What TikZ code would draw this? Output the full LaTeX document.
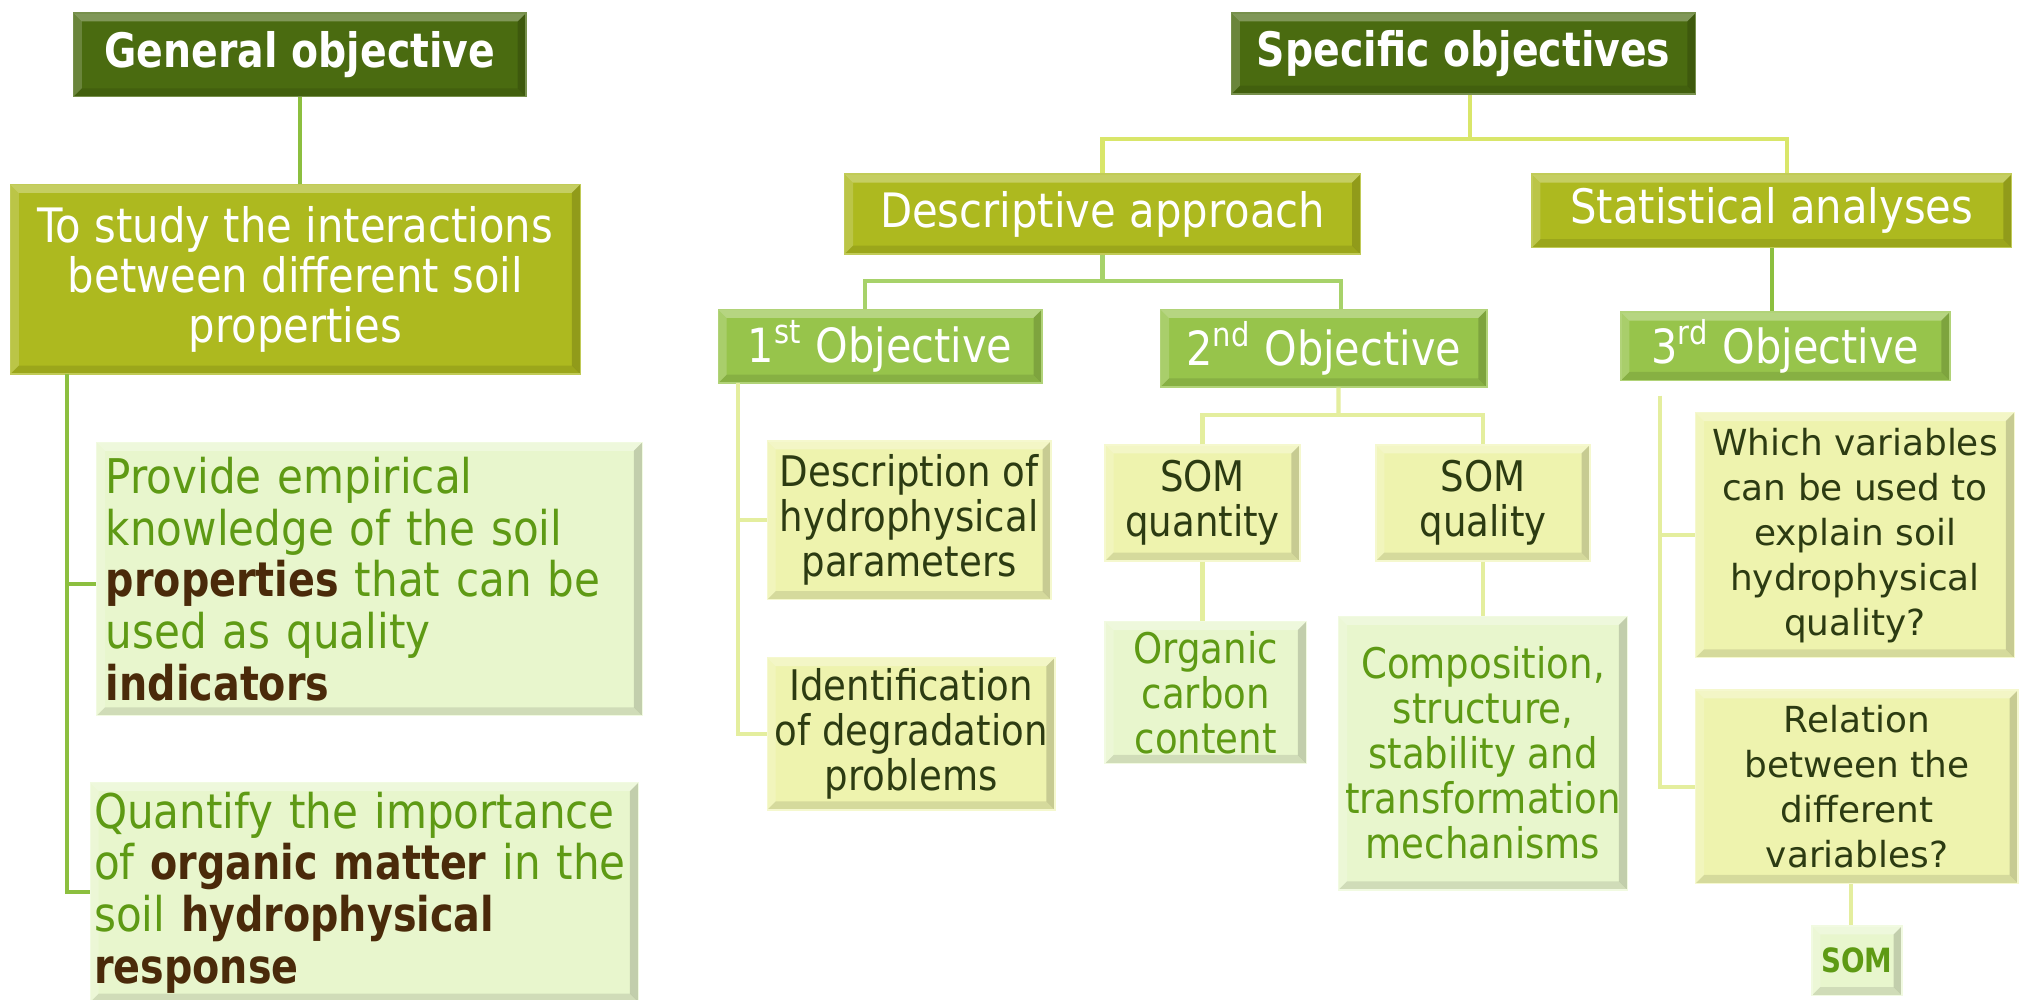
\documentclass[tikz,border=0pt]{standalone}
\usepackage{fontspec}
\setmainfont{DejaVu Sans}
\newfontfamily\cond{DejaVu Sans}[FakeStretch=0.88]
\newfontfamily\condb{DejaVu Sans Bold}[FakeStretch=0.83]
\definecolor{cDark}{HTML}{4A6B10}
\definecolor{cOlive}{HTML}{ADB91F}
\definecolor{cObj}{HTML}{97C44B}
\definecolor{cPale}{HTML}{EEF3AE}
\definecolor{cPaleTxt}{HTML}{2C3B12}
\definecolor{cMint}{HTML}{E8F6CD}
\definecolor{cMintTxt}{HTML}{5E9A14}
\definecolor{cBrown}{HTML}{4A2A0A}
\definecolor{lnA}{HTML}{8CBF3F}
\definecolor{lnB}{HTML}{D9E66A}
\definecolor{lnC}{HTML}{A7D26A}
\definecolor{lnD}{HTML}{E4EE9E}
\newcommand\kw[1]{{\condb\textcolor{cBrown}{#1}}}

\begin{document}
\begin{tikzpicture}[x=0.012895cm,y=-0.012895cm,
  sz/.style 2 args={minimum width=#1*0.012895cm, minimum height=#2*0.012895cm},
  bevel/.style={path picture={
    \fill[white,opacity=.30] (path picture bounding box.north west) -- (path picture bounding box.north east)
      -- ([xshift=-#1,yshift=-#1]path picture bounding box.north east) -- ([xshift=#1,yshift=-#1]path picture bounding box.north west) -- cycle;
    \fill[white,opacity=.18] (path picture bounding box.north west) -- ([xshift=#1,yshift=-#1]path picture bounding box.north west)
      -- ([xshift=#1,yshift=#1]path picture bounding box.south west) -- (path picture bounding box.south west) -- cycle;
    \fill[black,opacity=.16] (path picture bounding box.north east) -- (path picture bounding box.south east)
      -- ([xshift=-#1,yshift=#1]path picture bounding box.south east) -- ([xshift=-#1,yshift=-#1]path picture bounding box.north east) -- cycle;
    \fill[black,opacity=.10] (path picture bounding box.south west) -- (path picture bounding box.south east)
      -- ([xshift=-#1,yshift=#1]path picture bounding box.south east) -- ([xshift=#1,yshift=#1]path picture bounding box.south west) -- cycle;
  }},
  bevel/.default=2.4pt,
  box/.style={rectangle, inner sep=0pt, align=center, bevel},
  dark/.style={box, fill=cDark, draw=cDark!75!white, line width=.4pt, text=white,
    font=\condb\fontsize{13.5}{15}\selectfont},
  olive/.style={box, fill=cOlive, draw=cOlive!75!white, line width=.4pt, text=white,
    font=\cond\fontsize{13.5}{14.2}\selectfont},
  objg/.style={box, fill=cObj, draw=cObj!75!white, line width=.4pt, text=white,
    font=\cond\fontsize{13.4}{15}\selectfont},
  pale/.style={box, fill=cPale, draw=cPale!60!white, line width=.4pt, text=cPaleTxt,
    font=\cond\fontsize{12}{12.8}\selectfont},
  mint/.style={box, fill=cMint, draw=cMint!60!white, line width=.4pt, text=cMintTxt,
    font=\cond\fontsize{12}{12.8}\selectfont},
  wide/.style={font=\fontsize{10.2}{12.8}\selectfont},
  lnA/.style={draw=lnA, line width=1.2pt},
  lnB/.style={draw=lnB, line width=1.2pt},
  lnC/.style={draw=lnC, line width=1.2pt},
  lnD/.style={draw=lnD, line width=1.2pt}
]
\useasboundingbox[fill=white] (0,0) rectangle (1568,775);

% ---- general objective branch ----
\node[dark, sz={351}{65}] (gen) at (232.5,42.5) {General objective};
\node[olive, sz={442}{147}] (study) at (229,216.5)
  {To study the interactions\\between different soil\\properties};
\node[mint, sz={423}{212}, text width=150pt, inner xsep=2.6pt, align=left,
  font=\cond\fontsize{13.6}{14.7}\selectfont] (prov) at (286.5,449)
  {Provide empirical\\knowledge of the soil\\\kw{properties} that can be\\used as quality\\\kw{indicators}};
\node[mint, sz={425}{170}, text width=153.7pt, inner xsep=1.1pt, align=left,
  font=\cond\fontsize{13.6}{14.7}\selectfont] (quant) at (282.5,692)
  {Quantify the importance\\of \kw{organic matter} in the\\soil \kw{hydrophysical}\\\kw{response}};

\coordinate (lbus) at (52,290);
\draw[lnA] (gen.south) -- (gen.south |- study.north);
\draw[lnA] (lbus) |- ([yshift=-1.4pt]prov.west);
\draw[lnA] (lbus) |- (quant.west);

% ---- specific objectives branch ----
\node[dark, sz={360}{63}] (spec) at (1135,41.5) {Specific objectives};
\node[olive, sz={400}{62}] (desc) at (855,166) {Descriptive approach};
\node[olive, sz={372}{57}] (stat) at (1374,163.5) {Statistical analyses};

\coordinate (sbar) at (1140,108);
\draw[lnB] (spec.south -| sbar) -- (sbar);
\draw[lnB] (desc.north) |- (sbar) -| ([xshift=4.4pt]stat.north);

\node[objg, sz={251}{57}] (o1) at (682.5,268.5) {1\textsuperscript{st} Objective};
\node[objg, sz={253}{60}] (o2) at (1026.5,270) {2\textsuperscript{nd} Objective};
\node[objg, sz={255}{53}] (o3) at (1384.5,268.5) {3\textsuperscript{rd} Objective};

\coordinate (dbar) at (855,218);
\draw[lnC] (desc.south) -- (dbar);
\draw[lnC] ([xshift=-4.2pt]o1.north) |- (dbar) -| ([xshift=5pt]o2.north);
\draw[lnA] (stat.south) -- (stat.south |- o3.north);

% ---- first objective ----
\node[pale, sz={220}{123}] (descr) at (705,403.5) {Description of\\hydrophysical\\parameters};
\node[pale, sz={223}{118}] (ident) at (706.5,569) {Identification\\of degradation\\problems};
\coordinate (b1) at (572,297);
\draw[lnD] (b1) |- (descr.west);
\draw[lnD] (b1) |- (ident.west);

% ---- second objective ----
\node[pale, sz={151}{90}] (somqn) at (932.5,390) {SOM\\quantity};
\node[pale, sz={166}{90}] (somql) at (1150,390) {SOM\\quality};
\node[mint, sz={156}{110}] (orgc) at (935,537) {Organic\\carbon\\content};
\node[mint, sz={224}{212}] (comp) at (1150,584)
  {Composition,\\structure,\\stability and\\transformation\\mechanisms};
\coordinate (o2bar) at (1038,322);
\draw[lnD] ([xshift=4.2pt]o2.south) -- (o2bar);
\draw[lnD] (somqn.north) |- (o2bar) -| (somql.north);
\draw[lnD] (somqn.south) -- (somqn.south |- orgc.north);
\draw[lnD] (somql.south) -- (somql.south |- comp.north);

% ---- third objective ----
\node[pale, wide, sz={247}{190}] (which) at (1438.5,415)
  {Which variables\\can be used to\\explain soil\\hydrophysical\\quality?};
\node[pale, wide, sz={250}{150}] (rel) at (1440,610)
  {Relation\\between the\\different\\variables?};
\node[mint, sz={70}{54}, font=\condb\fontsize{9.5}{11}\selectfont] (som) at (1440,745) {SOM};
\coordinate (b3) at (1287,307);
\draw[lnD] (b3) |- (which.west);
\draw[lnD] (b3) |- (rel.west);
\draw[lnD] ([xshift=-1.8pt]som.north |- rel.south) -- ([xshift=-1.8pt]som.north);
\end{tikzpicture}
\end{document}
